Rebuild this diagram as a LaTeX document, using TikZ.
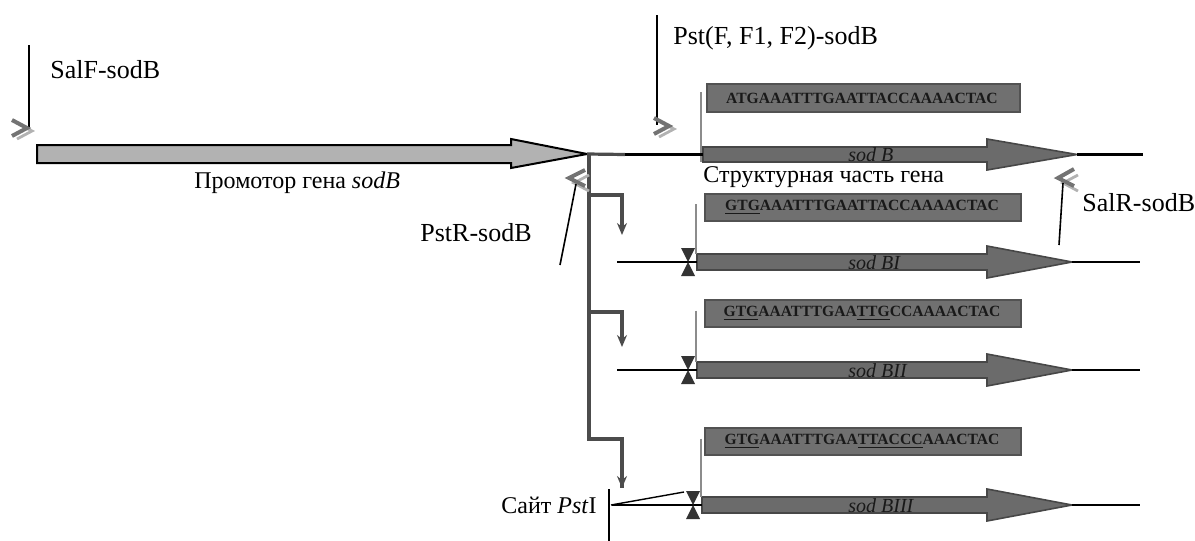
\documentclass[tikz,border=0pt]{standalone}
\usepackage{fontspec}
\setmainfont{Liberation Serif}
\usetikzlibrary{arrows.meta}

\begin{document}
\begin{tikzpicture}[x=0.5pt, y=-0.5pt, line join=miter,
	lbl/.style={inner sep=0pt, font=\fontsize{13}{15}\selectfont},
	ru/.style={inner sep=0pt, font=\fontsize{12}{14}\selectfont},
	seq/.style={inner sep=0pt, font=\fontsize{7.8}{9}\selectfont\bfseries, text=black!90},
	genename/.style={inner sep=0pt, anchor=west, font=\fontsize{10}{12}\selectfont\itshape, text=black!90},
	seqbox/.style={draw=black!68, fill=black!56, line width=1pt},
	genearrow/.style={draw=black!72, fill=black!58, line width=0.8pt},
	dna/.style={black, line width=1.2pt},
	trunk/.style={black!70, line width=1.6pt},
	primer/.style={black!55, line width=2pt},
	probe/.style={black!45, line width=0.6pt}]
		\useasboundingbox (0,0) rectangle (1195,541);

		\draw[fill=black!30, line width=1pt] (37,145) -- (511,145) -- (511,139) -- (587,154) -- (511,168) -- (511,163) -- (37,163) -- cycle;
		\coordinate (ptip) at (587,154);
		\node[ru, anchor=west] (prom) at (194,183) {Промотор гена \textit{sodB}};

		\draw[seqbox] (707,84) rectangle (1020,112);
		\node[seq] (seq0) at (862,98) {ATGAAATTTGAATTACCAAAACTAC};
		\draw[genearrow] (703,147) -- (987,147) -- (987,139) -- (1077,154.5) -- (987,170) -- (987,162) -- (703,162) -- cycle;
		\coordinate (gene0) at (703,154.5);
		\coordinate (gtip0) at (1077,154.5);
		\node[genename] (name0) at (848,155) {sod B};
		\node[ru, anchor=west] (struct) at (703,177) {Структурная часть гена};
		\draw[probe] (701,92) -- (701,162);
		\draw[trunk] (ptip) -- (625,154.5) coordinate (tj);
		\draw[dna] (tj) -- (gene0);
		\draw[dna] (gtip0) -- (1143,154.5);

		\draw[trunk] (589,154) -- (589,439) -- (622,439) -- (622,488);
		\draw[trunk, -{Stealth[length=6pt, width=5pt, inset=2pt]}] (622,470) -- (622,488);
		\draw[trunk, -{Stealth[length=6pt, width=5pt, inset=2pt]}] (589,195) -- (622,195) -- (622,235);
		\draw[trunk, -{Stealth[length=6pt, width=5pt, inset=2pt]}] (589,312) -- (622,312) -- (622,347);

		\foreach \y/\bx/\x/\stub/\seqtext/\gname [count=\i] in {
			262/207/697/617/{\underline{GTG}AAATTTGAATTACCAAAACTAC}/{sod BI},
			370/313.5/697/617/{\underline{GTG}AAATTTGAA\underline{TTG}CCAAAACTAC}/{sod BII},
			505/441.5/702/612/{\underline{GTG}AAATTTGAA\underline{TTACCC}AAACTAC}/{sod BIII}} {
			\draw[seqbox] (705,\bx-13.5) rectangle (1021,\bx+13.5);
			\node[seq] (seq\i) at (862,\bx) {\seqtext};
			\draw[genearrow] (\x,\y-8) -- (987,\y-8) -- (987,\y-16) -- (1072,\y) -- (987,\y+16) -- (987,\y+8) -- (\x,\y+8) -- cycle;
			\coordinate (gene\i) at (\x,\y);
			\coordinate (gtip\i) at (1072,\y);
			\node[genename] (name\i) at (848,\y+1) {\gname};
			\draw[probe] (\x-1,\bx-3) -- (\x-1,\y-8);
			\draw[dna] (\stub,\y) -- (gene\i);
			\draw[dna] (gtip\i) -- (1140,\y);
			\fill[black!80] (\x-16,\y-14) -- (\x-2,\y-14) -- (\x-9,\y) -- cycle;
			\fill[black!80] (\x-16,\y+14) -- (\x-2,\y+14) -- (\x-9,\y) -- cycle;
		}

		\draw[line width=0.8pt] (609,489) -- (609,541);
		\draw[line width=0.7pt] (611,505) -- (684,492);
		\node[ru, anchor=east] (pst) at (597,505) {Сайт \textit{Pst}I};

		\draw[line width=0.8pt] (29,45) -- (29,128);
		\draw[black!30, line width=1.4pt] (17,123) -- (32,131) -- (17,139);
		\draw[primer] (12,120) -- (27,128) -- (12,136);
		\node[lbl, anchor=west] (salf) at (50,70) {SalF-sodB};

		\draw[line width=0.8pt] (657,15) -- (657,125);
		\draw[black!30, line width=1.4pt] (659,121) -- (674,129) -- (659,137);
		\draw[primer] (654,118) -- (669,126) -- (654,134);
		\node[lbl, anchor=west] (pstf) at (673,38) {Pst(F, F1, F2)-sodB};

		\draw[black!30, line width=1.4pt] (589,175) -- (574,183) -- (589,191);
		\draw[primer] (585,170) -- (569,178) -- (585,186);
		\draw[line width=0.8pt] (576,184) .. controls (570,215) and (566,235) .. (560,265);
		\node[lbl, anchor=west] (pstr) at (420,233) {PstR-sodB};

		\draw[black!30, line width=1.4pt] (1078,175) -- (1063,183) -- (1078,191);
		\draw[primer] (1074,169) -- (1058,178) -- (1074,186);
		\draw[line width=0.8pt] (1063,183) -- (1059,245);
		\node[lbl, anchor=west] (salr) at (1082,203) {SalR-sodB};
\end{tikzpicture}
\end{document}
